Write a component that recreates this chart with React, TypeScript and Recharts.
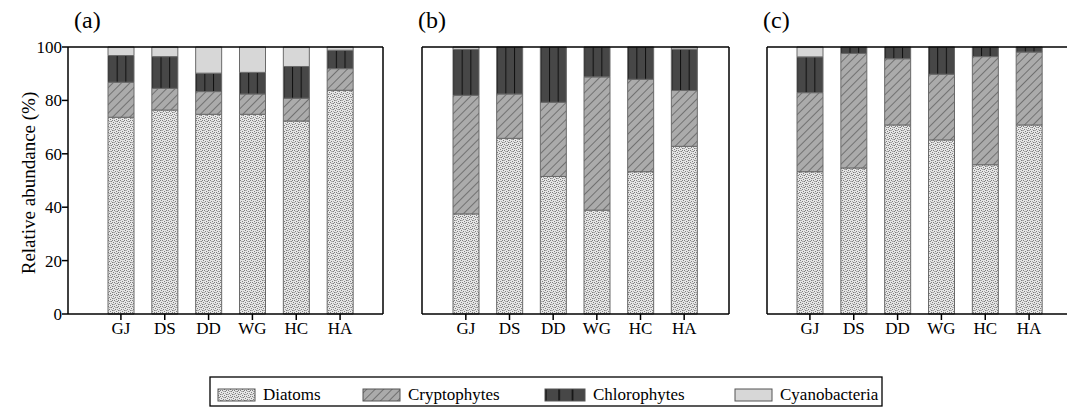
import { BarChart, Bar, XAxis, YAxis, ReferenceLine } from "recharts";

// sites along the x axis (same for all three panels)
const sites = ["GJ", "DS", "DD", "WG", "HC", "HA"];
const yTicks = [0, 20, 40, 60, 80, 100];

// panel (a)
const diatomsA = [73.7, 76.4, 74.8, 74.8, 72.3, 83.8];
const cryptoA = [13.1, 8.1, 8.5, 7.6, 8.5, 8.1];
const chloroA = [10.0, 11.9, 6.9, 8.1, 11.9, 6.9];
const cyanoA = [3.2, 3.6, 9.8, 9.5, 7.3, 1.2];

// panel (b)
const diatomsB = [37.5, 65.8, 51.5, 38.9, 53.3, 62.8];
const cryptoB = [44.4, 16.6, 27.8, 49.9, 34.6, 20.9];
const chloroB = [17.2, 17.6, 20.7, 11.2, 12.1, 15.5];
const cyanoB = [0.9, 0, 0, 0, 0, 0.8];

// panel (c)
const diatomsC = [53.3, 54.7, 70.8, 65.2, 55.9, 70.8];
const cryptoC = [29.6, 42.9, 24.8, 24.6, 40.5, 27.3];
const chloroC = [13.4, 2.4, 4.4, 10.2, 3.6, 1.9];
const cyanoC = [3.7, 0, 0, 0, 0, 0];

const series = [
  { key: "diatoms", name: "Diatoms", fill: "url(#pat-diatoms)" },
  { key: "crypto", name: "Cryptophytes", fill: "url(#pat-crypto)" },
  { key: "chloro", name: "Chlorophytes", fill: "url(#pat-chloro)" },
  { key: "cyano", name: "Cyanobacteria", fill: "#d7d7d7" },
];

const FONT = "Liberation Serif, Times New Roman, Tinos, DejaVu Serif, serif";

const buildRows = (d: number[], c: number[], ch: number[], cy: number[]) =>
  sites.map((site, i) => ({ site, diatoms: d[i], crypto: c[i], chloro: ch[i], cyano: cy[i] }));

// stipple dots for the diatom fill
const darkDots = [[0, 0], [3, 1], [1, 3], [4, 4], [2, 5], [5, 2], [4, 0]];
const lightDots = [[2, 1], [5, 4], [0, 4], [3, 3], [1, 1]];

const Patterns = () => (
  <svg width={0} height={0} style={{ position: "absolute" }}>
    <defs>
      <pattern id="pat-diatoms" patternUnits="userSpaceOnUse" width={6} height={6}>
        <rect width={6} height={6} fill="#e6e6e6" />
        {darkDots.map(([x, y], i) => (
          <rect key={`d${i}`} x={x} y={y} width={1} height={1} fill="#7e7e7e" />
        ))}
        {lightDots.map(([x, y], i) => (
          <rect key={`l${i}`} x={x} y={y} width={1} height={1} fill="#aaaaaa" />
        ))}
      </pattern>
      <pattern id="pat-crypto" patternUnits="userSpaceOnUse" width={6} height={6} patternTransform="rotate(45)">
        <rect width={6} height={6} fill="#ababab" />
        <line x1={0} y1={0} x2={0} y2={6} stroke="#4a4a4a" strokeWidth={1.2} />
      </pattern>
      <pattern id="pat-chloro" patternUnits="objectBoundingBox" width={1 / 3} height={1} patternContentUnits="objectBoundingBox">
        <rect width={1} height={1} fill="#474747" />
        <rect x={0} y={0} width={0.04} height={1} fill="#111" />
      </pattern>
    </defs>
  </svg>
);

interface PanelProps {
  rows: ReturnType<typeof buildRows>;
  left: number;
  width: number;
  padLeft: number;
  padRight: number;
  yLabels: boolean;
}

const Panel = ({ rows, left, width, padLeft, padRight, yLabels }: PanelProps) => (
  <div style={{ position: "absolute", left, top: 0 }}>
    <BarChart width={width} height={340} data={rows} margin={{ top: 47, right: 6, bottom: 0, left: 0 }} barSize={26}>
      <XAxis
        dataKey="site"
        height={26}
        padding={{ left: padLeft, right: padRight }}
        axisLine={{ stroke: "#000", strokeWidth: 1.5 }}
        tickLine={{ stroke: "#000", strokeWidth: 1.5 }}
        tickSize={6}
        tick={{ fill: "#000", fontSize: 17, fontFamily: FONT }}
        interval={0}
      />
      <YAxis
        width={68}
        domain={[0, 100]}
        ticks={yTicks}
        axisLine={{ stroke: "#000", strokeWidth: 1.5 }}
        tickLine={{ stroke: "#000", strokeWidth: 1.5 }}
        tickSize={6}
        tickMargin={0}
        tick={yLabels ? { fill: "#000", fontSize: 17, fontFamily: FONT } : false}
      />
      <YAxis
        yAxisId="r"
        orientation="right"
        width={1}
        tick={false}
        tickLine={false}
        axisLine={{ stroke: "#000", strokeWidth: 1.5 }}
      />
      <ReferenceLine y={100} stroke="#000" strokeWidth={1.5} />
      {series.map((s) => (
        <Bar
          key={s.key}
          dataKey={s.key}
          name={s.name}
          stackId="a"
          fill={s.fill}
          stroke="#6a6a6a"
          strokeWidth={1}
          isAnimationActive={false}
        />
      ))}
    </BarChart>
  </div>
);

const legendItems = [
  { x: 218, w: 37 },
  { x: 363, w: 37 },
  { x: 545, w: 40 },
  { x: 735, w: 37 },
];

export default function App() {
  const rowsA = buildRows(diatomsA, cryptoA, chloroA, cyanoA);
  const rowsB = buildRows(diatomsB, cryptoB, chloroB, cyanoB);
  const rowsC = buildRows(diatomsC, cryptoC, chloroC, cyanoC);

  return (
    <div
      style={{
        position: "absolute",
        left: 0,
        top: 0,
        width: 1067,
        height: 412,
        overflow: "hidden",
        background: "#fff",
        fontFamily: FONT,
      }}
    >
      <Patterns />
      <Panel rows={rowsA} left={0} width={390} padLeft={31} padRight={21} yLabels />
      <Panel rows={rowsB} left={354} width={382} padLeft={22} padRight={23} yLabels={false} />
      <Panel rows={rowsC} left={699} width={381} padLeft={21} padRight={22} yLabels={false} />

      <svg width={1067} height={412} style={{ position: "absolute", left: 0, top: 0, pointerEvents: "none" }}>
        <g fontFamily={FONT} fill="#000">
          <text x={74} y={28} fontSize={24}>(a)</text>
          <text x={418} y={28} fontSize={24}>(b)</text>
          <text x={763} y={28} fontSize={24}>(c)</text>
          <text
            x={28}
            y={183}
            fontSize={19}
            textAnchor="middle"
            dominantBaseline="central"
            transform="rotate(-90 28 183)"
          >
            Relative abundance (%)
          </text>
        </g>
        <rect x={210} y={377} width={672} height={29} fill="none" stroke="#000" strokeWidth={1.3} />
        {series.map((s, i) => (
          <g key={s.key}>
            <rect x={legendItems[i].x} y={389} width={legendItems[i].w} height={12} fill={s.fill} stroke="#555" strokeWidth={1} />
            <text x={legendItems[i].x + legendItems[i].w + 8} y={400} fontSize={17} fontFamily={FONT} fill="#000">
              {s.name}
            </text>
          </g>
        ))}
      </svg>
    </div>
  );
}
